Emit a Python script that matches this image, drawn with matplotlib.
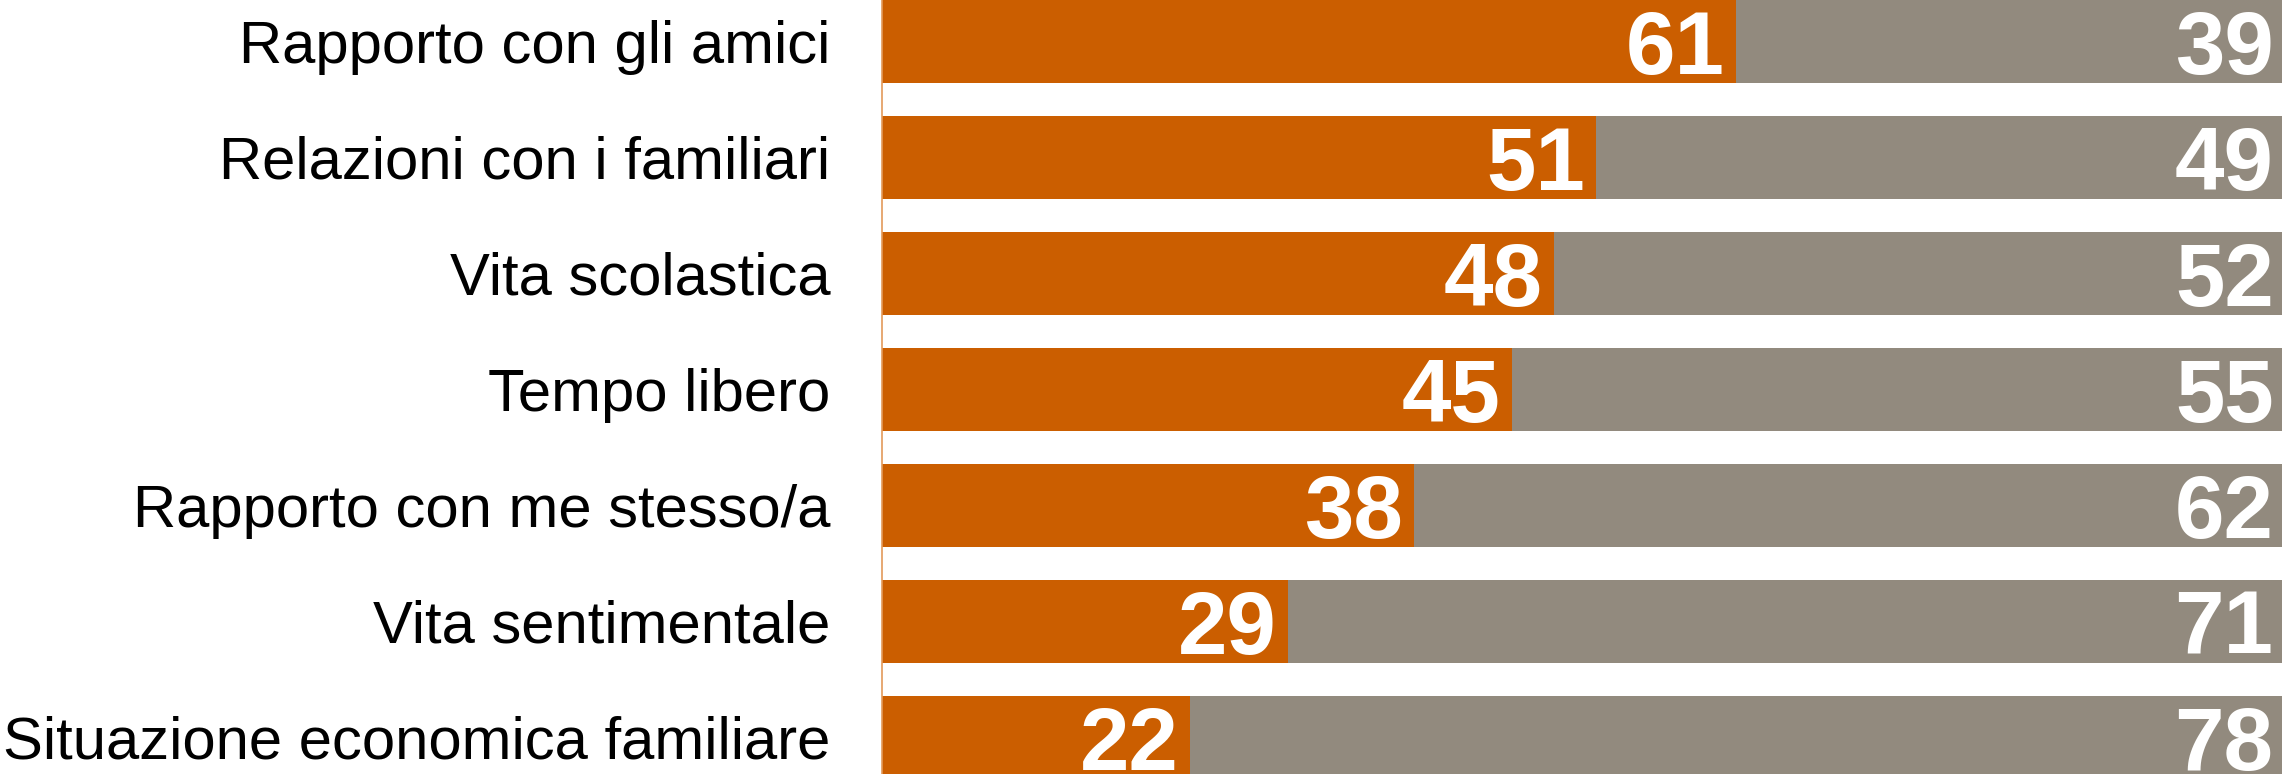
import matplotlib.pyplot as plt

categories = [
    "Rapporto con gli amici",
    "Relazioni con i familiari",
    "Vita scolastica",
    "Tempo libero",
    "Rapporto con me stesso/a",
    "Vita sentimentale",
    "Situazione economica familiare",
]
migliorato = [61, 51, 48, 45, 38, 29, 22]
peggiorato = [39, 49, 52, 55, 62, 71, 78]

orange = "#CB5E00"
grey = "#928A7E"

fig = plt.figure(figsize=(22.82, 7.74), dpi=100)
ax = fig.add_axes([882 / 2282, 0, 1 - 882 / 2282, 1])

y = list(range(len(categories)))
ax.barh(y, migliorato, height=0.715, color=orange)
ax.barh(y, peggiorato, left=migliorato, height=0.715, color=grey)

for i in y:
    ax.text(migliorato[i] - 0.8, i, str(migliorato[i]), color="white",
            fontsize=64, fontweight="bold", family="Liberation Sans",
            ha="right", va="center_baseline")
    ax.text(100 - 0.6, i, str(peggiorato[i]), color="white",
            fontsize=64, fontweight="bold", family="Liberation Sans",
            ha="right", va="center_baseline")

ax.set_xlim(0, 100)
ax.set_ylim(6.315, -0.3575)
ax.set_yticks(y)
ax.set_yticklabels(categories, fontsize=43, family="Liberation Sans")
ax.tick_params(axis="y", length=0, pad=37)
ax.set_xticks([])
for s in ["top", "right", "bottom"]:
    ax.spines[s].set_visible(False)
ax.spines["left"].set_color("#E39A5A")
ax.spines["left"].set_linewidth(1.2)

fig.savefig("out.png", dpi=100)
